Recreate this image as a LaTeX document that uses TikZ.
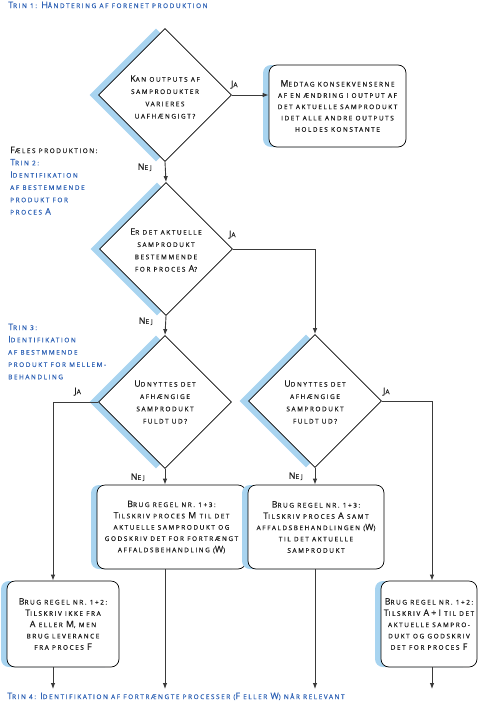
\documentclass[tikz,border=0pt]{standalone}
\usepackage{fontspec}
\setmainfont{Open Sans}
\newfontfamily\lsfont[LetterSpace=24,FakeBold=0.4]{Open Sans}
\usetikzlibrary{shapes.geometric,arrows.meta,shadows,calc}
\definecolor{sblue}{HTML}{A8D4F0}
\definecolor{tblue}{HTML}{2F62B5}
\definecolor{ink}{HTML}{1E1E1E}
\definecolor{lineg}{HTML}{3A3A3A}
\newcommand\cp[1]{{\fontsize{8.9}{0}\selectfont #1}}
\tikzset{
  txt/.style={font=\lsfont\fontsize{6.45}{12.3}\selectfont, text=ink, inner sep=0pt, align=center},
  side/.style={font=\lsfont\fontsize{6.45}{12.3}\selectfont, text=tblue, inner sep=0pt, align=left, anchor=north west},
  dia/.style={diamond, draw=black, line width=0.7pt, fill=white, minimum width=133pt, minimum height=133pt,
    inner sep=0pt, aspect=1, general shadow={shadow xshift=-9pt, shadow yshift=0pt, fill=sblue}},
  box/.style={rectangle, rounded corners=8pt, draw=black, line width=0.7pt, fill=white, align=center,
    inner sep=0pt, text=ink, font=\lsfont\fontsize{6.45}{11.3}\selectfont,
    general shadow={shadow xshift=-6pt, shadow yshift=0pt, fill=sblue}},
  conn/.style={draw=lineg, line width=0.9pt},
  arr/.style={conn, -{Latex[length=6pt,width=4.5pt]}},
  lab/.style={font=\lsfont\fontsize{6.45}{10}\selectfont, text=ink, inner sep=0pt}
}
\begin{document}
\begin{tikzpicture}[x=1pt,y=-1pt]
\useasboundingbox (0,0) rectangle (478,707);
% titles
\node[side] (title1) at (8,1.5) {\cp{T}RIN 1: \cp{H}ÅNDTERING AF FORENET PRODUKTION};
\node[side] (trin2) at (10,146.5) {{\color{ink}\cp{F}ÆLES PRODUKTION:}\\\cp{T}RIN 2:\\\cp{I}DENTIFIKATION\\AF BESTEMMENDE\\PRODUKT FOR\\PROCES \cp{A}};
\node[side] (trin3) at (8,323.5) {\cp{T}RIN 3:\\\cp{I}DENTIFIKATION\\AF BESTMMENDE\\PRODUKT FOR MELLEM-\\BEHANDLING};
\node[side] (trin4) at (7,692.5) {\cp{T}RIN 4: \cp{I}DENTIFIKATION AF FORTRÆNGTE PROCESSER (\cp{F} ELLER \cp{W}) NÅR RELEVANT};
% diamonds
\node[dia] (d1) at (165,95) {};
\node[txt] (t1) at (165,97) {\cp{K}AN OUTPUTS AF\\SAMPRODUKTER\\VARIERES\\UAFHÆNGIGT?};
\node[dia] (d2) at (166,249) {};
\node[txt] (t2) at (166,250) {\cp{E}R DET AKTUELLE\\SAMPRODUKT\\BESTEMMENDE\\FOR PROCES \cp{A}?};
\node[dia] (d3) at (165,402) {};
\node[txt] (t3) at (165,402) {\cp{U}DNYTTES DET\\AFHÆNGIGE\\SAMPRODUKT\\FULDT UD?};
\node[dia] (d4) at (315,401) {};
\node[txt] (t4) at (315,402) {\cp{U}DNYTTES DET\\AFHÆNGIGE\\SAMPRODUKT\\FULDT UD?};
% boxes
\node[box, minimum width=137pt, minimum height=82pt] (b1) at (337.5,106)
  {\cp{M}EDTAG KONSEKVENSERNE\\AF EN ÆNDRING I OUTPUT AF\\DET AKTUELLE SAMPRODUKT\\IDET ALLE ANDRE OUTPUTS\\HOLDES KONSTANTE};
\node[box, minimum width=149pt, minimum height=84pt] (m1) at (171.5,527)
  {\cp{B}RUG REGEL NR. 1+3:\\\cp{T}ILSKRIV PROCES \cp{M} TIL DET\\AKTUELLE SAMPRODUKT OG\\GODSKRIV DET FOR FORTRÆNGT\\AFFALDSBEHANDLING (\cp{W})};
\node[box, minimum width=136pt, minimum height=84pt] (m2) at (316,527)
  {\cp{B}RUG REGEL NR. 1+3:\\\cp{T}ILSKRIV PROCES \cp{A} SAMT\\AFFALDSBEHANDLINGEN (\cp{W})\\TIL DET AKTUELLE\\SAMPRODUKT};
\node[box, minimum width=112pt, minimum height=86pt] (bl) at (63,624)
  {\cp{B}RUG REGEL NR. 1+2:\\\cp{T}ILSKRIV IKKE FRA\\\cp{A} ELLER \cp{M}, MEN\\BRUG LEVERANCE\\FRA PROCES \cp{F}};
\node[box, minimum width=96pt, minimum height=86pt] (br) at (429,624)
  {\cp{B}RUG REGEL NR. 1+2:\\\cp{T}ILSKRIV \cp{A+I} TIL DET\\AKTUELLE SAMPRO-\\DUKT OG GODSKRIV\\DET FOR PROCES \cp{F}};
% helper coordinates
\coordinate (lcol) at (53,0);
\coordinate (rcol) at (432,0);
\coordinate (e1) at (53,689);
\coordinate (e2) at (165,689);
\coordinate (e3) at (315,689);
\coordinate (e4) at (432,689);
% connectors
\draw[arr] (d1.east) -- (d1.east -| b1.west);
\node[lab, anchor=base west] (ja1) at ($(d1.east)+(-1,-8)$) {\cp{J}A};
\draw[arr] (d1.south) -- (d2.north);
\node[lab, anchor=base east] (nej1) at ($(d1.south)+(-13,8)$) {\cp{N}EJ};
\draw[arr] (d2.east) -| (d4.north);
\node[lab, anchor=base west] (ja2) at ($(d2.east)+(-4,-12)$) {\cp{J}A};
\draw[arr] (d2.south) -- (d3.north);
\node[lab, anchor=base east] (nej2) at ($(d2.south)+(-13,8)$) {\cp{N}EJ};
\draw[arr] (d3.west) -| (lcol |- bl.north);
\node[lab, anchor=base west] (ja3) at ($(d3.west)+(-24,-8)$) {\cp{J}A};
\draw[arr] (d4.east) -| (rcol |- br.north);
\node[lab, anchor=base west] (ja4) at ($(d4.east)+(1,-7)$) {\cp{J}A};
\draw[arr] (d3.south) -- (d3.south |- m1.north);
\node[lab, anchor=base east] (nej3) at ($(d3.south)+(-20,11)$) {\cp{N}EJ};
\draw[arr] (d4.south) -- (d4.south |- m2.north);
\node[lab, anchor=base east] (nej4) at ($(d4.south)+(-12,11)$) {\cp{N}EJ};
\draw[arr] (e1 |- bl.south) -- (e1);
\draw[arr] (e2 |- m1.south) -- (e2);
\draw[arr] (e3 |- m2.south) -- (e3);
\draw[arr] (e4 |- br.south) -- (e4);
\end{tikzpicture}
\end{document}
